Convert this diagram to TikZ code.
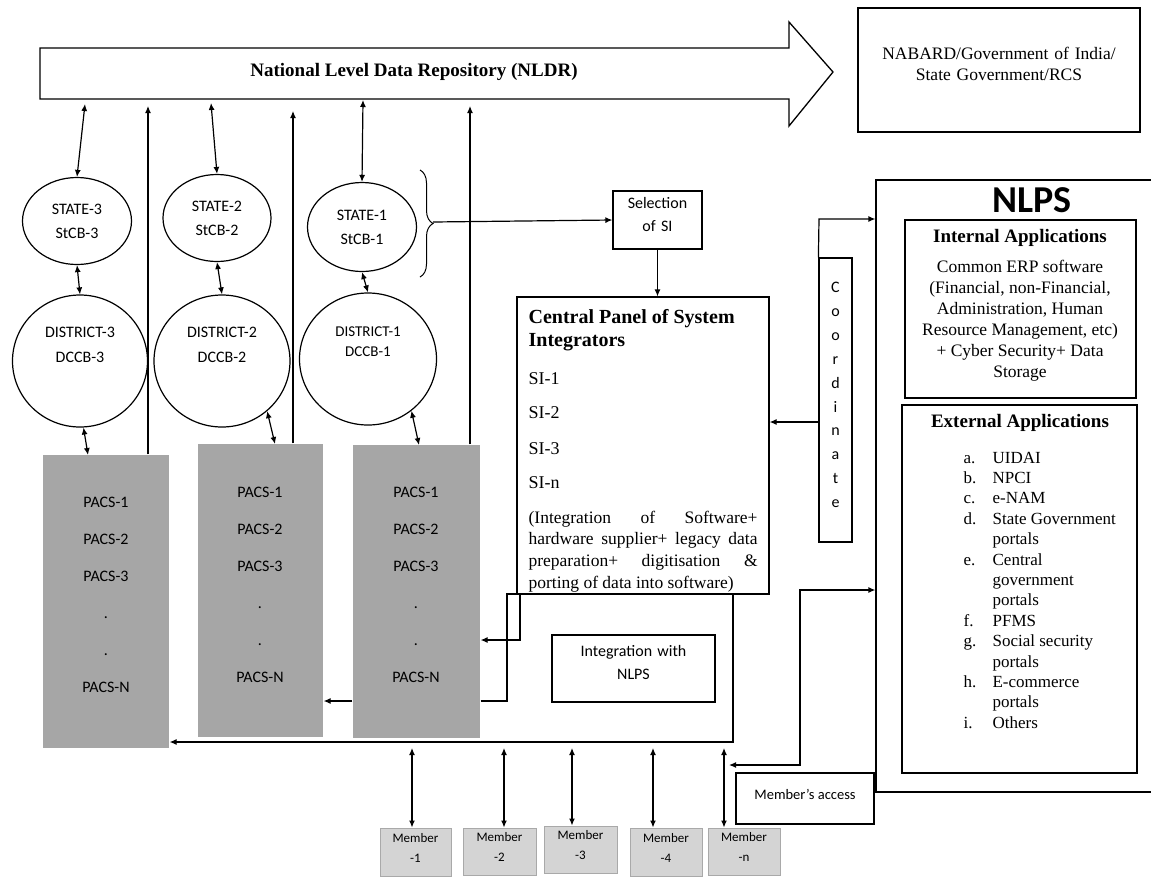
\documentclass[tikz,border=0pt]{standalone}
\usepackage{fontspec}
\setmainfont{Liberation Serif}
\newfontfamily\calib{Carlito}
\usetikzlibrary{arrows.meta,shapes.geometric,fit,decorations.pathreplacing,calc}
\definecolor{pacsgray}{HTML}{A6A6A6}
\definecolor{memfill}{HTML}{D4D4D4}
\definecolor{memline}{HTML}{A9A9A9}
\newcommand\setfs[2]{\fontsize{#1}{#2}\selectfont}
\begin{document}
\begin{tikzpicture}[x=1pt,y=-1pt,line width=1.2pt,
  arr/.style={-{Latex[length=7pt,width=6pt]}},
  darr/.style={{Latex[length=7pt,width=6pt]}-{Latex[length=7pt,width=6pt]}},
  frame/.style={draw,inner sep=0pt},
  oval/.style={ellipse,draw,inner sep=0pt},
  sanslbl/.style={font={\calib\setfs{16}{24}},align=center,inner sep=0pt},
  pacs/.style={fill=pacsgray,inner sep=0pt},
  pacstext/.style={font={\calib\setfs{16}{37}},align=center,inner sep=0pt},
  member/.style={fill=memfill,draw=memline,line width=1pt,inner sep=0pt,align=center,font={\calib\setfs{13}{20}}},
  serifline/.style={anchor=base west,inner sep=0pt}]
\useasboundingbox (0,0) rectangle (1151,879);
\fill[white] (0,0) rectangle (1151,879);

% national repository arrow
\draw[line width=1.3pt] (40,48) -- (789,48) -- (789,22) -- (833,72) -- (789,126) -- (789,99) -- (40,99) -- cycle;
\node[font={\bfseries\setfs{19}{22}}] (nldr) at (414,72) {National Level Data Repository (NLDR)};

\node[frame,fit={(858,8) (1140,132)},align=center,font={\setfs{17.5}{21}}] (nabard) {NABARD/Government of India/\\State Government/RCS};

% state and district banks
\node[oval,minimum width=109pt,minimum height=87pt] (st3) at (77,221) {};
\node[oval,minimum width=108pt,minimum height=87pt] (st2) at (217,218) {};
\node[oval,minimum width=109pt,minimum height=89pt] (st1) at (362,227) {};
\node[sanslbl] (st3t) at (77,221) {STATE-3\\StCB-3};
\node[sanslbl] (st2t) at (217,218) {STATE-2\\StCB-2};
\node[sanslbl] (st1t) at (362,227) {STATE-1\\StCB-1};

\node[oval,minimum width=135pt,minimum height=132pt] (d3) at (80,361) {};
\node[oval,minimum width=136pt,minimum height=132pt] (d2) at (222,361) {};
\node[oval,minimum width=137pt,minimum height=132pt] (d1) at (368,359) {};
\node[sanslbl,font={\calib\setfs{16}{25}}] (d3t) at (80,345) {DISTRICT-3\\DCCB-3};
\node[sanslbl,font={\calib\setfs{16}{25}}] (d2t) at (222,345) {DISTRICT-2\\DCCB-2};
\node[sanslbl,font={\calib\setfs{15}{20}}] (d1t) at (368,342) {DISTRICT-1\\DCCB-1};

% PACS columns
\node[pacs,fit={(43,455) (169,748)}] (p3) {};
\node[pacs,fit={(198,444) (323,737)}] (p2) {};
\node[pacs,fit={(353,445) (480,738)}] (p1) {};
\node[pacstext] (p3t) at (106,595) {PACS-1\\PACS-2\\PACS-3\\.\\.\\PACS-N};
\node[pacstext] (p2t) at (260,585) {PACS-1\\PACS-2\\PACS-3\\.\\.\\PACS-N};
\node[pacstext] (p1t) at (416,585) {PACS-1\\PACS-2\\PACS-3\\.\\.\\PACS-N};

% links to the repository
\coordinate (t3) at (85,104);
\coordinate (t2) at (211,103);
\coordinate (t1) at (363,100);
\draw[darr] (t3) -- (st3.north);
\draw[darr] (t2) -- (st2.north);
\draw[darr] (t1) -- (st1.north);
\coordinate (u3) at (148,106);
\coordinate (u2) at (293,111);
\coordinate (u1) at (470,106);
\draw[arr] (p3.north -| u3) -- (u3);
\draw[arr] (p2.north -| u2) -- (u2);
\draw[arr] (p1.north -| u1) -- (u1);

\draw[darr] (st3.south) -- (d3.north);
\draw[darr] (st2.south) -- (d2.north);
\draw[darr] (st1.south) -- (d1.north);

\coordinate (q3) at (88,455);
\coordinate (q2) at (275,444);
\coordinate (q1) at (419,445);
\draw[darr] (d3.-87) -- (q3);
\draw[darr] (d2.-48) -- (q2);
\draw[darr] (d1.-50) -- (q1);

% selection of system integrators
\draw[line width=1pt,decorate,decoration={brace,amplitude=13pt}] (420,170) -- (420,277);
\node[frame,fit={(613,191) (702,249)},sanslbl,font={\calib\setfs{16}{23}}] (sel) {Selection\\of SI};
\coordinate (bt) at (433,222);
\draw[arr] (bt) -- (sel.west);

\node[frame,fit={(517,297) (769,594)}] (cp) {};
\draw[arr] (sel.south) -- (cp.north -| sel.south);
\node[serifline,font={\bfseries\setfs{20}{23}}] (cpt1) at (528,323.5) {Central Panel of System};
\node[serifline,font={\bfseries\setfs{20}{23}}] (cpt2) at (528,346.5) {Integrators};
\node[serifline,font={\setfs{18}{21}}] (si1) at (528,384) {SI-1};
\node[serifline,font={\setfs{18}{21}}] (si2) at (528,418) {SI-2};
\node[serifline,font={\setfs{18}{21}}] (si3) at (528,454) {SI-3};
\node[serifline,font={\setfs{18}{21}}] (sin) at (528,488) {SI-n};
\node[serifline] (sipar) at (528,523) {\parbox[t]{229pt}{\setfs{17.5}{21.7}(Integration of Software+\linebreak hardware supplier+ legacy data\linebreak preparation+ digitisation \&\linebreak porting of data into software)}};

% coordination column
\node[frame,fit={(819,258) (852,542)}] (co) {};
\node[sanslbl,font={\calib\setfs{16}{23.9}}] (cot) at (835.5,395) {C\\o\\o\\r\\d\\i\\n\\a\\t\\e};

% NLPS block
\node[frame,fit={(876,180) (1170,792)}] (nlps) {};
\node[font={\calib\bfseries\setfs{38}{40}},inner sep=0pt] (nlpst) at (1032,200) {NLPS};
\node[frame,fit={(905,220) (1136,398)}] (int) {};
\node[font={\bfseries\setfs{19}{21}},inner sep=0pt] (intt) at (1020,238) {Internal Applications};
\node[font={\setfs{17.5}{21}},align=center,inner sep=0pt] (intb) at (1020,321) {Common ERP software\\(Financial, non-Financial,\\Administration, Human\\Resource Management, etc)\\+ Cyber Security+ Data\\Storage};
\node[frame,fit={(902,405) (1137,773)}] (ext) {};
\node[font={\bfseries\setfs{19}{21}},inner sep=0pt] (extt) at (1020,423) {External Applications};
\node[anchor=base west,inner sep=0pt,font={\setfs{17}{20.4}}] (extl) at (963,463)
  {\begin{tabular}[t]{@{}p{29pt}@{}l@{}}
   a. & UIDAI\\ b. & NPCI\\ c. & e-NAM\\ d. & State Government\\ & portals\\
   e. & Central\\ & government\\ & portals\\ f. & PFMS\\ g. & Social security\\
   & portals\\ h. & E-commerce\\ & portals\\ i. & Others
   \end{tabular}};

\coordinate (cj) at (819,219);
\draw[arr] (co.north west) -- (cj) -- (cj -| nlps.west);
\coordinate (ck) at (819,422);
\draw[arr] (ck) -- (ck -| cp.east);

% integration loop back to the PACS
\node[frame,fit={(552,635) (715,702)},sanslbl,font={\calib\setfs{16}{23}}] (integ) {Integration with\\NLPS};
\coordinate (pa) at (520,594);
\coordinate (pb) at (520,640);
\draw[arr] (pa) -- (pb) -- (pb -| p1.east);
\coordinate (fa) at (507,701);
\coordinate (fb) at (507,594);
\coordinate (fc) at (733,594);
\coordinate (fd) at (733,742);
\draw[arr] (fa -| p1.east) -- (fa) -- (fb) -- (fc) -- (fd) -- (fd -| p3.east);
\draw[arr] (fa -| p1.west) -- (fa -| p2.east);

% members
\node[member,fit={(380,828) (451,876)}] (m1) {Member\\-1};
\node[member,fit={(463,828) (536,875)}] (m2) {Member\\-2};
\node[member,fit={(544,826) (617,873)}] (m3) {Member\\-3};
\node[member,fit={(630,828) (702,876)}] (m4) {Member\\-4};
\node[member,fit={(708,828) (780,875)}] (mn) {Member\\-n};
\coordinate (b1) at (412,748);
\coordinate (b2) at (504,748);
\coordinate (b3) at (572,748);
\coordinate (b4) at (653,748);
\coordinate (bn) at (724,748);
\draw[darr] (b1) -- (b1 |- m1.north);
\draw[darr] (b2) -- (b2 |- m2.north);
\draw[darr] (b3) -- (b3 |- m3.north);
\draw[darr] (b4) -- (b4 |- m4.north);
\draw[darr] (bn) -- (bn |- mn.north);

\node[frame,fit={(736,773) (874,824)}] (macc) {};
\node[font={\calib\setfs{14.5}{17}},inner sep=0pt] (macct) at (805,794) {Member’s access};
\coordinate (ma) at (800,590);
\coordinate (mb) at (800,765);
\coordinate (mc) at (729,765);
\draw[darr] (ma -| nlps.west) -- (ma) -- (mb) -- (mc);
\end{tikzpicture}
\end{document}
